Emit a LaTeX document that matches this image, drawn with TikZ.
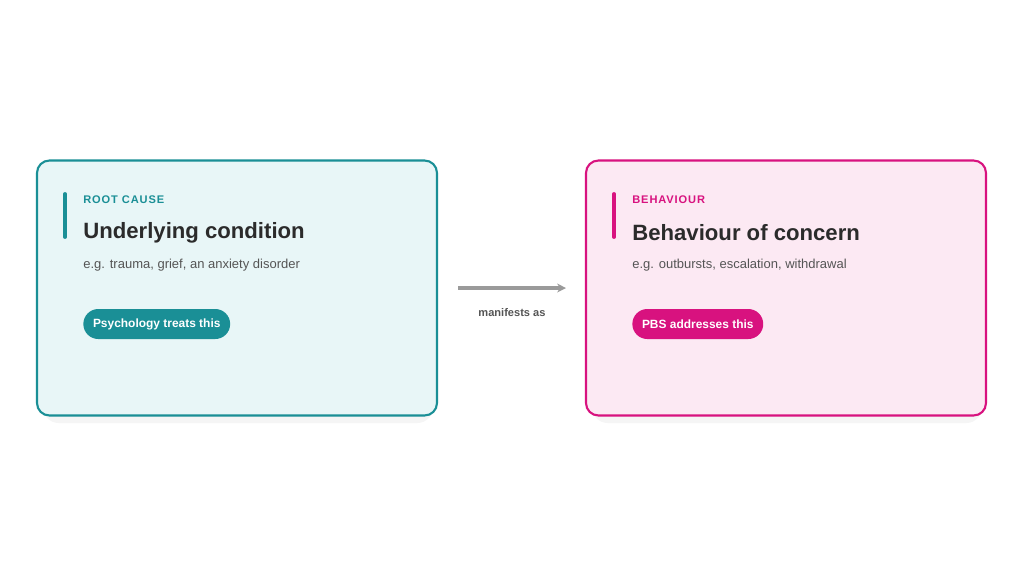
\documentclass[tikz,border=0pt]{standalone}
\usepackage{fontspec}
\setmainfont{Liberation Sans}
\newfontfamily\spacedfont[LetterSpace=8]{Liberation Sans}
\usetikzlibrary{positioning, arrows.meta}
\definecolor{teal}{HTML}{1A8F96}
\definecolor{tealbg}{HTML}{E8F6F7}
\definecolor{pink}{HTML}{D8127F}
\definecolor{pinkbg}{HTML}{FCE9F3}
\definecolor{ink}{HTML}{2B2B2B}
\definecolor{subtext}{HTML}{555555}
\definecolor{arrowgrey}{HTML}{9A9A9A}
\begin{document}
\begin{tikzpicture}[x=0.02cm, y=-0.02cm]

% Styles for cards
\tikzset{card/.style={rectangle, draw, line width=1.2pt, rounded corners=7pt, minimum width=8cm, minimum height=5.1cm, inner sep=0pt},
 tag/.style={anchor=west, font=\fontsize{6.3}{7}\spacedfont\bfseries, inner sep=0pt},
 headline/.style={anchor=west, font=\fontsize{12.6}{14}\selectfont\bfseries, text=ink, inner sep=0pt},
 example/.style={anchor=west, font=\fontsize{7.4}{9}\selectfont, text=subtext, inner sep=0pt},
 pill/.style={anchor=west, rounded corners=8.5pt, minimum height=0.6cm, inner xsep=5.5pt, text=white, font=\fontsize{6.8}{8}\selectfont\bfseries}}

\useasboundingbox (0,0) rectangle (1024,576);
\fill[white] (0,0) rectangle (1024,576);

% Cards
\fill[black!4, rounded corners=9pt] (43,167) rectangle (433,423);
\fill[black!4, rounded corners=9pt] (592,167) rectangle (982,423);
\node [card, draw=teal, fill=tealbg] (cause) at (237,288) {};
\node [card, draw=pink, fill=pinkbg] (behav) at (786,288) {};

% Left card content
\draw[teal, line width=2.2pt, line cap=round] (65,194) -- (65,237);
\node [tag, text=teal] (causetag) at (83,200) {ROOT CAUSE};
\node [headline] (causetitle) at (83,233) {Underlying condition};
\node [example] (causeeg) at (83,265) {e.g. trauma, grief, an anxiety disorder};
\node [pill, fill=teal] (causepill) at (83,324) {Psychology treats this};

% Right card content
\draw[pink, line width=2.2pt, line cap=round] (614,194) -- (614,237);
\node [tag, text=pink] (behavtag) at (632,200) {BEHAVIOUR};
\node [headline] (behavtitle) at (632,233) {Behaviour of concern};
\node [example] (behaveg) at (632,265) {e.g. outbursts, escalation, withdrawal};
\node [pill, fill=pink] (behavpill) at (632,324) {PBS addresses this};

% Connector
\draw[arrowgrey, line width=2pt, -{Stealth[length=5pt, width=5pt]}, shorten <=0.4cm, shorten >=0.38cm] (cause.east |- 0,288) -- (behav.west |- 0,288);
\node [font=\fontsize{6.3}{7}\selectfont\bfseries, text=subtext] (label) at (512,313) {manifests as};

\end{tikzpicture}
\end{document}
